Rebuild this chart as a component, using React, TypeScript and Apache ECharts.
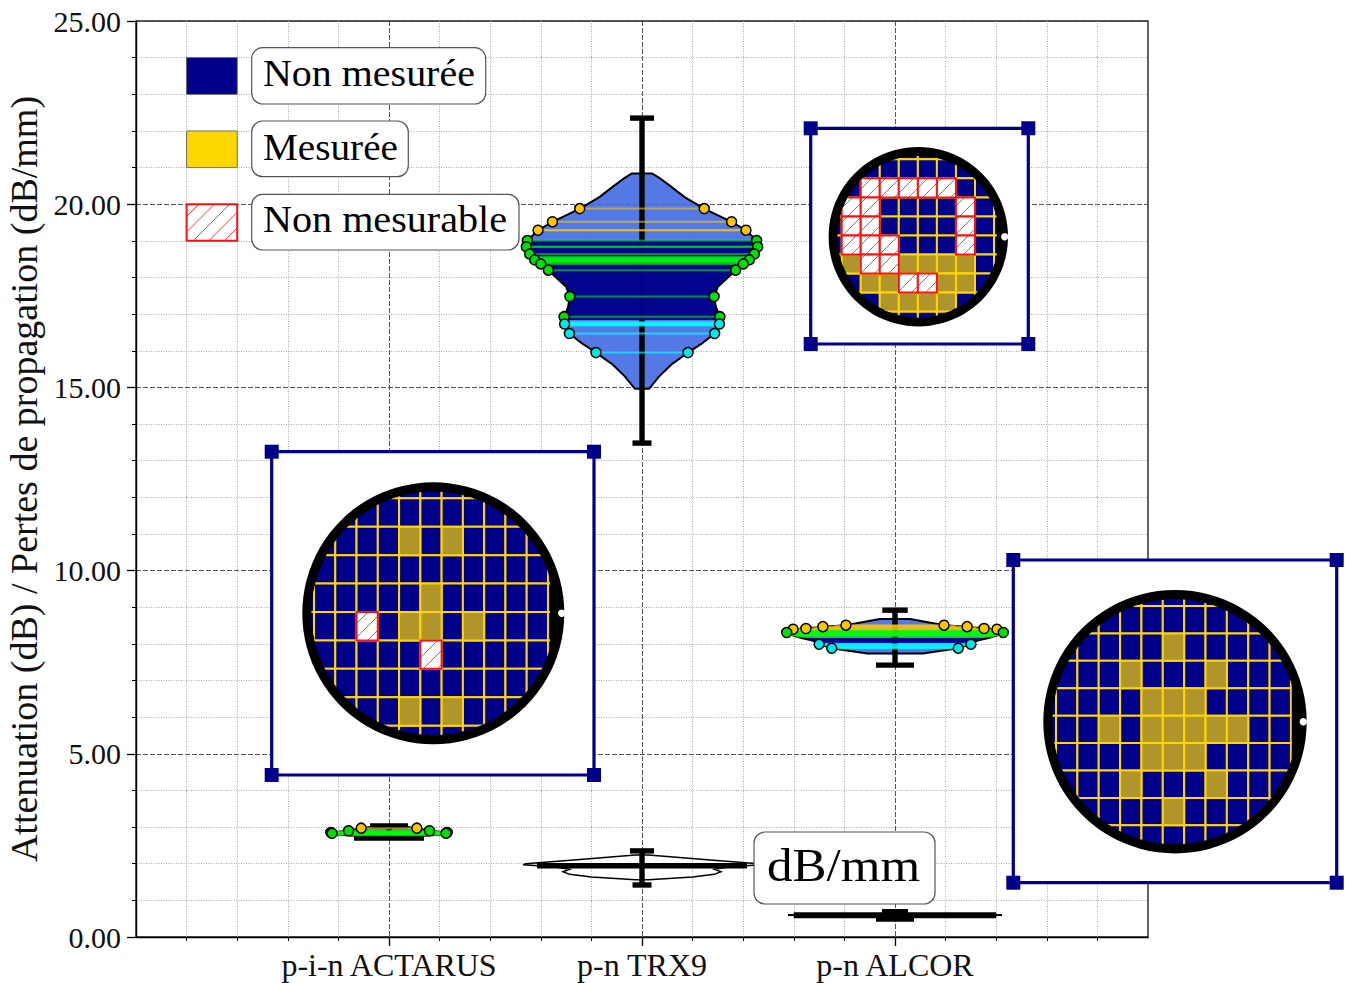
import React, { useEffect, useRef } from "react";
import * as echarts from "echarts";

const FONT = "'Liberation Serif', serif";
const categories = ["p-i-n ACTARUS", "p-n TRX9", "p-n ALCOR"];
const categoryTicks = [1, 2, 3];
const yMajorTicks = [0, 5, 10, 15, 20, 25];

// [value, half width in x units]
const trxOutline = [[20.84,.04],[20.72,.068],[20.48,.115],[20.2,.167],[19.88,.245],[19.52,.354],[19.29,.411],[19.01,.453],[18.84,.457],[18.64,.444],[18.48,.424],[18.37,.399],[18.2,.37],[17.93,.329],[17.75,.3],[17.48,.285],[17.2,.292],[16.93,.307],[16.84,.308],[16.73,.306],[16.47,.287],[16.2,.237],[15.95,.182],[15.62,.115],[15.3,.068],[14.96,.028]];
const trxGold = [[19.88,.246],[19.52,.354],[19.29,.411]];
const trxGoldLines = [[19.29,.411]];
const trxGreen = [[19.01,.453],[18.84,.457],[18.64,.444],[18.48,.424],[18.37,.4],[18.2,.37],[17.48,.285],[16.93,.308]];
const trxGreenLines = [[18.84,.457],[18.56,.435],[18.54,.433],[18.52,.43],[18.5,.428],[18.46,.42],[18.44,.415],[18.42,.41],[18.4,.405],[18.5,.428],[18.44,.415]];
const trxCyan = [[16.73,.306],[16.47,.287],[15.95,.182]];
const trxCyanLines = [[16.78,.306],[16.76,.306],[16.71,.306],[16.69,.306]];
const actarusOutline = [[3.02,.05],[2.97,.11],[2.9,.16],[2.86,.225],[2.82,.24],[2.78,.17],[2.72,.05]];
const actarusGold = [[2.97,.11]];
const actarusGreen = [[2.9,.16],[2.85,.23],[2.83,.225]];
const actarusGreenLines = [[2.88,.2],[2.86,.22],[2.84,.225],[2.82,.22],[2.8,.2],[2.78,.17],[2.86,.22],[2.84,.225],[2.82,.22],[2.8,.2]];
const alcorOutline = [[8.68,.06],[8.51,.194],[8.47,.285],[8.42,.352],[8.4,.403],[8.31,.428],[8.22,.4],[8.16,.37],[8.1,.33],[8.03,.305],[7.99,.3],[7.88,.25],[7.74,.11]];
const alcorGold = [[8.51,.194],[8.47,.285],[8.42,.352],[8.4,.403]];
const alcorGoldLines = [[8.49,.24],[8.45,.32],[8.38,.41]];
const alcorGreen = [[8.31,.428]];
const alcorGreenLines = [[8.36,.415],[8.34,.42],[8.32,.425],[8.3,.425],[8.28,.42],[8.26,.415],[8.24,.41],[8.22,.4],[8.2,.39],[8.32,.425],[8.28,.42],[8.24,.41]];
const alcorCyan = [[7.99,.3],[7.88,.25]];
const alcorCyanLines = [[7.96,.28],[7.93,.265],[7.9,.255]];
const trxDbOutline = [[2.24,.026],[2.1,.27],[2.0,.46],[1.97,.47],[1.92,.35],[1.85,.286],[1.78,.312],[1.71,.286],[1.64,.2],[1.56,.026]];
const trxDbLines = [[1.99,.415],[1.96,.415],[1.93,.415],[1.9,.415]];
const alcorDbOutline = [[0.63,.05],[0.605,.42],[0.595,.42],[0.56,.05]];
const alcorDbLines = [[0.645,.4],[0.62,.4],[0.595,.4],[0.57,.4],[0.545,.4]];

// [x, low, high]
const attenuationBars = [[1,2.7,3.03],[2,13.48,22.35],[3,7.42,8.92]];
const lossBars = [[2,1.42,2.35],[3,.49,.69]];

const actarusMap = ["NNNNNNNNNNNNN","NNNNNNNNNNNNN","NNNNNMNMNNNNN","NNNNNNNNNNNNN","NNNNNNMNNNNNN","NNNXNMMNMNNNN","NNNNNNXNNNNNN","NNNNNNNNNNNNN","NNNNNMNMNNNNN","NNNNNNNNNNNNN"];
const alcorMap = ["NNNNNNNNNNNNN","NNNNNNNNNNNNN","NNNNNNMNNNNNN","NNNNMNNNMNNNN","NNNNNMMMNNNNN","NNNMNMMMMMNNN","NNNNNMMMNNNNN","NNNNMNNNMNNNN","NNNNNNMNNNNNN","NNNNNNNNNNNNN"];
const trxMap = ["NNNNNNNNNN","NNNNNNNNNN","NNXXXXXNNN","NXXNNNNXNN","NXXNNNNXNN","NXXXNNNXNN","NMXXMMMMNN","NNMMXXMMNN","NNNMMMMNNN","NNNNNNNNNN"];

const legendLabels = ["Non mesurée", "Mesurée", "Non mesurable"];
// [x0, x1, yTop, yBottom, kind]
const legendSwatches = [[.2,.4,24,23,0],[.2,.4,22,21,1],[.2,.4,20,19,2]];

const NAVY = "#00008B", GOLD = "#FFD700", CELLGOLD = "#B0962A", RED = "#FF1010";
const LIGHT = "rgba(65,105,225,.9)", DARK = "rgba(0,0,139,.96)";

function hatch(x0: number, y0: number, w: number, h: number, step: number) {
  const out: any[] = [];
  const start = Math.ceil((x0 + y0) / step) * step;
  for (let k = start; k < x0 + w + y0 + h; k += step) {
    const xa = Math.max(x0, k - (y0 + h)), xb = Math.min(x0 + w, k - y0);
    if (xb <= xa) continue;
    out.push({ type: "line", shape: { x1: xa, y1: k - xa, x2: xb, y2: k - xb }, style: { stroke: RED, lineWidth: .8 } });
  }
  return out;
}

function custom(render: (api: any, p: any) => any, data: any[], z: number, extra: any = {}) {
  return { type: "custom", coordinateSystem: "cartesian2d", silent: true, z, clip: false, data, renderItem: (p: any, api: any) => render(api, p), ...extra };
}

function barSeries(bars: number[][], lowCap: number[], highCap: number[], z: number) {
  return custom((api, p) => {
    const i = p.dataIndex;
    const x = api.value(0);
    const [px, lo] = api.coord([x, api.value(1)]);
    const [, hi] = api.coord([x, api.value(2)]);
    const s = { stroke: "#000", lineWidth: 5.4 };
    return { type: "group", children: [
      { type: "line", shape: { x1: px, y1: lo, x2: px, y2: hi }, style: s },
      { type: "line", shape: { x1: px - lowCap[i], y1: lo, x2: px + lowCap[i], y2: lo }, style: s },
      { type: "line", shape: { x1: px - highCap[i], y1: hi, x2: px + highCap[i], y2: hi }, style: s },
    ] };
  }, bars, z);
}

function bodySeries(cx: number, outline: number[][], fill: string, stroke: string, lineWidth: number, z: number) {
  return custom((api) => {
    const left = outline.map((d) => api.coord([cx - d[1], d[0]]));
    const right = outline.slice().reverse().map((d) => api.coord([cx + d[1], d[0]]));
    return { type: "polygon", shape: { points: left.concat(right) }, style: { fill, stroke, lineWidth } };
  }, [[cx, outline[0][0]]], z);
}

function crossLines(cx: number, rows: number[][], color: string, width: number, z: number) {
  return custom((api) => {
    const v = api.value(0), h = api.value(1);
    const a = api.coord([cx - h, v]), b = api.coord([cx + h, v]);
    return { type: "line", shape: { x1: a[0], y1: a[1], x2: b[0], y2: b[1] }, style: { stroke: color, lineWidth: width } };
  }, rows, z);
}

function dots(cx: number, rows: number[][], color: string, size: number, z: number) {
  const data: number[][] = [];
  rows.forEach((r) => { data.push([cx - r[1], r[0]]); data.push([cx + r[1], r[0]]); });
  return { type: "scatter", silent: true, z, clip: false, data, symbolSize: size, itemStyle: { color, borderColor: "#000", borderWidth: 1.5, opacity: 1 } };
}

function violin(cx: number, outline: number[][], gold: number[][], goldExtra: number[][], green: number[][], greenExtra: number[][], cyan: number[][], cyanExtra: number[][], zone: number[] | null) {
  const out: any[] = [];
  if (zone) {
    const part = outline.filter((d) => d[0] <= zone[1] && d[0] >= zone[0]);
    out.push(bodySeries(cx, part, DARK, "none", 0, 4));
  }
  out.push(bodySeries(cx, outline, "none", "#000", 2, 5));
  out.push(crossLines(cx, gold.concat(goldExtra), "rgba(255,200,0,.6)", 2, 6));
  out.push(crossLines(cx, green.concat(greenExtra), "rgba(0,255,0,.55)", 2, 6));
  out.push(crossLines(cx, cyan.concat(cyanExtra), "rgba(0,255,255,.7)", 2, 6));
  out.push(dots(cx, gold, "#FFC400", 10, 7));
  out.push(dots(cx, green, "#00E000", 10, 7));
  out.push(dots(cx, cyan, "#00E8E8", 10, 7));
  return out;
}

type Wafer = { map: string[]; left: number; top: number; right: number; bottom: number; ox: number; oy: number; cw: number; ch: number; cx: number; cy: number; R: number; r: number; flat: number; nx: number };

function waferParts(w: Wafer, idx: number) {
  const grid = { left: w.left, top: w.top, width: w.right - w.left, height: w.bottom - w.top, show: false, outerBoundsMode: "none" };
  const xAxis = { gridIndex: idx, type: "value", show: false, min: (w.left - w.ox) / w.cw, max: (w.right - w.ox) / w.cw };
  const yAxis = { gridIndex: idx, type: "value", show: false, inverse: true, min: (w.top - w.oy) / w.ch, max: (w.bottom - w.oy) / w.ch };
  const clipPoints: number[][] = [];
  for (let a = 0; a < 360; a += 3) {
    const t = (a * Math.PI) / 180;
    clipPoints.push([Math.min(w.cx + w.r * Math.cos(t), w.flat), w.cy + w.r * Math.sin(t)]);
  }
  const axes = { xAxisIndex: idx, yAxisIndex: idx };
  const cells: number[][] = [];
  ["N", "M", "X"].forEach((kind, k) => {
    w.map.forEach((row, r) => row.split("").forEach((c, col) => { if (c === kind) cells.push([col, r, k]); }));
  });
  const frame = custom(() => {
    const cs = 14;
    const corners = [[w.left, w.top], [w.right, w.top], [w.left, w.bottom], [w.right, w.bottom]];
    return { type: "group", children: [
      { type: "rect", shape: { x: w.left, y: w.top, width: w.right - w.left, height: w.bottom - w.top }, style: { fill: "#fff", stroke: NAVY, lineWidth: 3.2 } },
      ...corners.map((c) => ({ type: "rect", shape: { x: c[0] - cs / 2, y: c[1] - cs / 2, width: cs, height: cs }, style: { fill: NAVY } })),
      { type: "circle", shape: { cx: w.cx, cy: w.cy, r: w.R }, style: { fill: "#000" } },
    ] };
  }, [[0, 0]], 20, axes);
  const cellSeries = custom((api) => {
    const c = api.value(0), r = api.value(1), k = api.value(2);
    const a = api.coord([c, r]), b = api.coord([c + 1, r + 1]);
    const x = a[0], y = a[1], wd = b[0] - a[0], hg = b[1] - a[1];
    const rect = { type: "rect", shape: { x, y, width: wd, height: hg }, style: { fill: k === 0 ? NAVY : k === 1 ? CELLGOLD : "#fff", stroke: k === 2 ? RED : GOLD, lineWidth: 2 } };
    const kids: any[] = k === 2 ? [{ ...rect, style: { fill: "#fff" } }, ...hatch(x, y, wd, hg, 14), { ...rect, style: { fill: "none", stroke: RED, lineWidth: 2 } }] : [rect];
    return { type: "group", clipPath: { type: "polygon", shape: { points: clipPoints } }, children: kids };
  }, cells, 21, axes);
  const notch = custom(() => ({ type: "circle", shape: { cx: w.nx, cy: w.cy, r: 3.7 }, style: { fill: "#fff" } }), [[0, 0]], 22, axes);
  return { grid, xAxis, yAxis, series: [frame, cellSeries, notch] };
}

const CHW = 1349, CHH = 983;

export default function App() {
  const ref = useRef<HTMLDivElement>(null);
  useEffect(() => {
    document.body.style.margin = "0";
    const chart = echarts.init(ref.current!, null, { renderer: "svg" });
    const wafers: Wafer[] = [
      { map: actarusMap, left: 271.7, top: 451.7, right: 594, bottom: 775, ox: 314 - 21.27, oy: 498.3 - 28.42, cw: 21.27, ch: 28.42, cx: 433.3, cy: 613.3, R: 131, r: 121.7, flat: 550, nx: 561.7 },
      { map: trxMap, left: 810.7, top: 128.3, right: 1028.3, bottom: 344, ox: 841.7 - 19.04, oy: 159.3 - 19.04, cw: 19.04, ch: 19.04, cx: 918.3, cy: 236.7, R: 89.7, r: 80.7, flat: 996.7, nx: 1004.7 },
      { map: alcorMap, left: 1013.3, top: 560, right: 1336.7, bottom: 882.7, ox: 1056 - 21.36, oy: 606 - 27.42, cw: 21.36, ch: 27.42, cx: 1175, cy: 721.7, R: 131.7, r: 122.4, flat: 1291.7, nx: 1303.3 },
    ];
    const parts = wafers.map((w, i) => waferParts(w, i + 1));

    const legendSeries = custom((api) => {
      const a = api.coord([api.value(0), api.value(2)]), b = api.coord([api.value(1), api.value(3)]);
      const k = api.value(4);
      const x = a[0], y = a[1], w = b[0] - a[0], h = b[1] - a[1];
      if (k === 2) {
        return { type: "group", children: [
          { type: "rect", shape: { x, y, width: w, height: h }, style: { fill: "#fff" } },
          ...hatch(x, y, w, h, 15.5),
          { type: "rect", shape: { x, y, width: w, height: h }, style: { fill: "none", stroke: RED, lineWidth: 2 } },
        ] };
      }
      return { type: "rect", shape: { x, y, width: w, height: h }, style: { fill: k === 0 ? NAVY : GOLD, stroke: "#555", lineWidth: .8 } };
    }, legendSwatches, 30);

    const box = (x: number, y: number, w: number, h: number) => ({ type: "rect", z: 100, shape: { x, y, width: w, height: h, r: 11 }, style: { fill: "#fff", stroke: "#555", lineWidth: 1.2 } });
    const label = (t: string, x: number, y: number, fs: number, sx: number) => ({ type: "text", z: 101, x, y, scaleX: sx, style: { text: t, fontFamily: FONT, fontSize: fs, fill: "#000", align: "left", verticalAlign: "middle" } });

    const option: any = {
      animation: false,
      backgroundColor: "#fff",
      tooltip: { show: false },
      grid: [{ left: 136, top: 21, width: 1012, height: 916, show: true, outerBoundsMode: "none", borderColor: "#222", borderWidth: 1.4, backgroundColor: "transparent" }, ...parts.map((p) => p.grid)],
      xAxis: [{
        type: "value", min: 0, max: 4, interval: 1, gridIndex: 0,
        axisLine: { show: true, onZero: false, lineStyle: { color: "#000", width: 1.4 } },
        axisTick: { show: true, length: 9, customValues: categoryTicks, lineStyle: { color: "#000", width: 1.3 } },
        minorTick: { show: true, splitNumber: 5, length: 4, lineStyle: { color: "#000", width: 1 } },
        splitLine: { show: true, lineStyle: { color: "#444", type: [5, 2], width: .9 } },
        minorSplitLine: { show: true, lineStyle: { color: "#a0a0a0", type: [1, 1.5], width: .9 } },
        axisLabel: { show: true, margin: 12, fontFamily: FONT, fontSize: 32, color: "#111", formatter: (v: number) => categories[v - 1] ?? "" },
      }, ...parts.map((p) => p.xAxis)],
      yAxis: [{
        type: "value", min: yMajorTicks[0], max: yMajorTicks[yMajorTicks.length - 1], interval: 5, gridIndex: 0,
        name: "Attenuation (dB) / Pertes de propagation (dB/mm)", nameLocation: "middle", nameGap: 93, nameRotate: 90,
        nameTextStyle: { fontFamily: FONT, fontSize: 38, color: "#111" },
        axisLine: { show: true, onZero: false, lineStyle: { color: "#000", width: 1.4 } },
        axisTick: { show: true, length: 9, lineStyle: { color: "#000", width: 1.3 } },
        minorTick: { show: true, splitNumber: 5, length: 4, lineStyle: { color: "#000", width: 1 } },
        splitLine: { show: true, lineStyle: { color: "#444", type: [5, 2], width: .9 } },
        minorSplitLine: { show: true, lineStyle: { color: "#a0a0a0", type: [1, 1.5], width: .9 } },
        axisLabel: { show: true, margin: 15, fontFamily: FONT, fontSize: 30, color: "#111", formatter: (v: number) => v.toFixed(2) },
      }, ...parts.map((p) => p.yAxis)],
      series: [
        bodySeries(2, trxOutline, LIGHT, "none", 0, 2),
        bodySeries(3, alcorOutline, LIGHT, "none", 0, 2),
        bodySeries(1, actarusOutline, LIGHT, "none", 0, 2),
        barSeries(attenuationBars, [35, 9.5, 19], [19, 12, 12.7], 3),
        barSeries(lossBars, [9.5, 19], [12, 13], 3),
        ...violin(2, trxOutline, trxGold, trxGoldLines, trxGreen, trxGreenLines, trxCyan, trxCyanLines, [16.84, 19.01]),
        ...violin(3, alcorOutline, alcorGold, alcorGoldLines, alcorGreen, alcorGreenLines, alcorCyan, alcorCyanLines, [8.03, 8.16]),
        ...violin(1, actarusOutline, actarusGold, [], actarusGreen, actarusGreenLines, [], [], null),
        bodySeries(2, trxDbOutline, "none", "#000", 1.5, 5),
        crossLines(2, trxDbLines, "#000", 2.2, 6),
        bodySeries(3, alcorDbOutline, "none", "#000", 1.5, 5),
        crossLines(3, alcorDbLines, "#000", 2.2, 6),
        legendSeries,
        ...parts.flatMap((p) => p.series),
      ],
      graphic: { elements: [
        box(251.7, 47.7, 234, 56.3), label(legendLabels[0], 263, 74, 37, 1.08),
        box(251.7, 121, 156.6, 55.7), label(legendLabels[1], 263, 147, 37, 1.06),
        box(251.7, 194.3, 267.3, 55.7), label(legendLabels[2], 263, 220, 37, 1.085),
        box(754, 832, 181, 72), label("dB/mm", 767, 866, 46, 1.11),
      ] },
    };
    chart.setOption(option);
    return () => chart.dispose();
  }, []);
  return <div ref={ref} style={{ position: "absolute", left: 0, top: 0, width: CHW, height: CHH, overflow: "hidden" }} />;
}
